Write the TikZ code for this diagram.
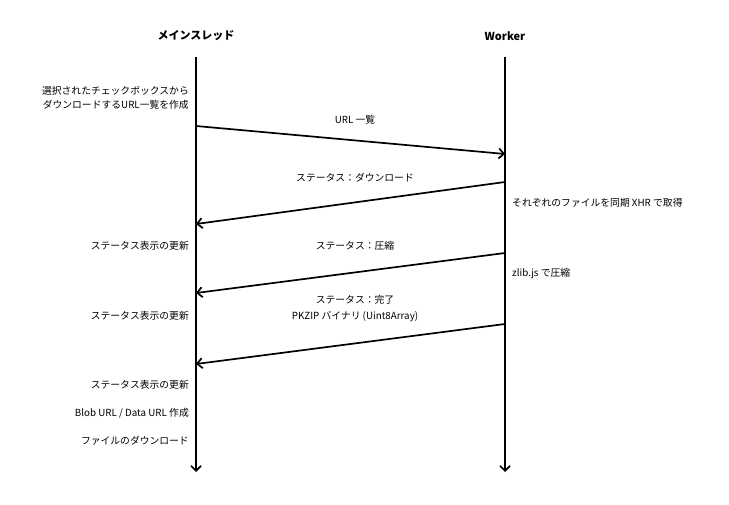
\documentclass[tikz,border=0pt]{standalone}
\usepackage{fontspec}
\setmainfont{Noto Sans CJK JP}
\usetikzlibrary{arrows.meta}

\begin{document}
\begin{tikzpicture}[x=1pt,y=-1pt]
	\tikzstyle{every node}=[font=\fontsize{9.8}{16}\selectfont,inner sep=0pt]
	\tikzstyle{title}=[font=\fontsize{11}{13}\selectfont\bfseries]
	\tikzstyle{lifeline}=[line width=1.7pt,-{Straight Barb[length=5pt,width=10pt,line width=1.7pt]}]
	\tikzstyle{msg}=[line width=1.7pt,-{Straight Barb[length=5pt,width=10pt,line width=1.7pt]}]
	\tikzstyle{lnote}=[anchor=east,align=right,font=\fontsize{9.8}{14}\selectfont]
	\tikzstyle{rnote}=[anchor=west]
	\useasboundingbox (0,0) rectangle (729,505);
	% lifelines
	\node[title] (main) at (196,36) {メインスレッド};
	\node[title] (worker) at (505,36) {Worker};
	\coordinate (mtop) at (196,57); \coordinate (mend) at (196,472);
	\coordinate (wtop) at (505,57); \coordinate (wend) at (505,472);
	\draw[lifeline] (mtop) -- (mend);
	\draw[lifeline] (wtop) -- (wend);
	% messages
	\coordinate (m1) at (196,126); \coordinate (w1) at (505,154);
	\coordinate (w2) at (505,182); \coordinate (m2) at (196,224);
	\coordinate (w3) at (505,253); \coordinate (m3) at (196,293);
	\coordinate (w4) at (505,324); \coordinate (m4) at (196,364);
	\draw[msg] (m1) -- (w1);
	\draw[msg] (w2) -- (m2);
	\draw[msg] (w3) -- (m3);
	\draw[msg] (w4) -- (m4);
	\node (url) at (355,120) {URL 一覧};
	\node (dl) at (355,178) {ステータス：ダウンロード};
	\node (zip) at (355,246) {ステータス：圧縮};
	\node[align=center] (done) at (355,309) {ステータス：完了\\PKZIP バイナリ (Uint8Array)};
	% notes
	\node[lnote] (select) at (189,98) {選択されたチェックボックスから\\ダウンロードするURL一覧を作成};
	\node[lnote] (upd1) at (189,246) {ステータス表示の更新};
	\node[lnote] (upd2) at (189,316) {ステータス表示の更新};
	\node[lnote] (upd3) at (189,385) {ステータス表示の更新};
	\node[lnote] (blob) at (189,413) {Blob URL / Data URL 作成};
	\node[lnote] (save) at (189,441) {ファイルのダウンロード};
	\node[rnote] (xhr) at (512,203) {それぞれのファイルを同期 XHR で取得};
	\node[rnote] (zlib) at (512,274) {zlib.js で圧縮};
\end{tikzpicture}
\end{document}
